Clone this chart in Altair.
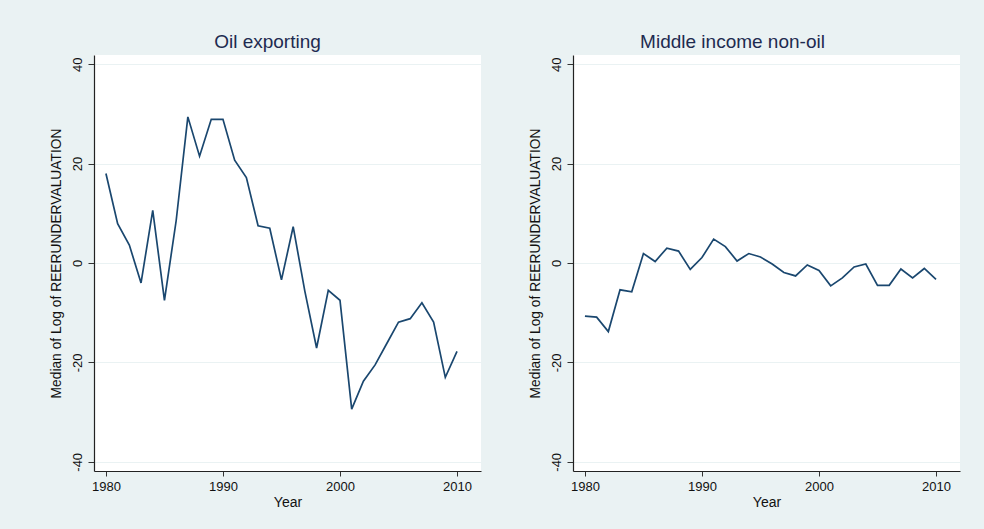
import altair as alt
import pandas as pd

years = list(range(1980, 2011))

oil_exporting = [18.0, 7.9, 3.6, -4.0, 10.6, -7.5, 8.5, 29.4, 21.5, 28.9, 28.9,
                 20.7, 17.2, 7.5, 7.0, -3.4, 7.3, -5.7, -17.1, -5.5, -7.5,
                 -29.4, -23.8, -20.5, -16.2, -11.9, -11.2, -8.0, -11.9, -23.0, -17.8]

middle_income_non_oil = [-10.7, -10.9, -13.8, -5.4, -5.8, 1.9, 0.3, 3.0, 2.4, -1.3, 1.1,
                         4.8, 3.3, 0.4, 1.9, 1.2, -0.2, -1.9, -2.6, -0.4, -1.5,
                         -4.6, -3.0, -0.8, -0.2, -4.5, -4.5, -1.2, -3.0, -1.1, -3.3]

panel_titles = ["Oil exporting", "Middle income non-oil"]
title_dx = [-20, -34]
y_ticks = [-40, -20, 0, 20, 40]
x_ticks = [1980, 1990, 2000, 2010]

BG = "#eaf2f3"
LINE = "#1a476f"
FONT = "Liberation Sans"
W, H = 387, 416


def panel(values, title, dx):
    df = pd.DataFrame({"Year": years, "v": values})
    return alt.Chart(df).mark_line(color=LINE, strokeWidth=1.7, clip=True).encode(
        x=alt.X("Year:Q",
                scale=alt.Scale(domain=[1978.98, 2012.05], nice=False, zero=False),
                axis=alt.Axis(values=x_ticks, format="d", grid=False, title="Year",
                              tickSize=5, labelPadding=4, labelFontSize=13,
                              titleFontSize=14, titlePadding=2, labelFlush=False)),
        y=alt.Y("v:Q",
                scale=alt.Scale(domain=[-41.85, 41.85], nice=False, zero=False),
                axis=alt.Axis(values=y_ticks, grid=True,
                              labelExpr="'' + datum.value",
                              title="Median of Log of REERUNDERVALUATION",
                              tickSize=6, labelPadding=7, labelAngle=270,
                              labelAlign="center", labelBaseline="alphabetic",
                              labelFontSize=13, titleFontSize=13.8,
                              titleAngle=270, titleAlign="center",
                              titleBaseline="alphabetic", titleX=-33.5, titleY=H / 2)),
    ).properties(
        width=W, height=H,
        title=alt.TitleParams(text=title, fontSize=19, font=FONT, fontWeight="normal",
                              color="#1e2b50", anchor="middle", dx=dx, offset=-12,
                              baseline="alphabetic"),
    )


chart = alt.hconcat(
    panel(oil_exporting, panel_titles[0], title_dx[0]),
    panel(middle_income_non_oil, panel_titles[1], title_dx[1]),
    spacing=92, bounds="flush",
).properties(
    background=BG,
    padding={"left": 49, "top": 33, "right": 24, "bottom": 26},
).configure_view(
    fill="white", stroke=None,
).configure_axis(
    labelFont=FONT, titleFont=FONT, labelColor="#111111", titleColor="#111111",
    domainColor="#222222", tickColor="#333333", gridColor=BG, gridWidth=1.2,
    titleFontWeight="normal", domainWidth=1.2, tickWidth=1,
)

chart.save("out.html", embed_options={"renderer": "svg", "actions": False})
